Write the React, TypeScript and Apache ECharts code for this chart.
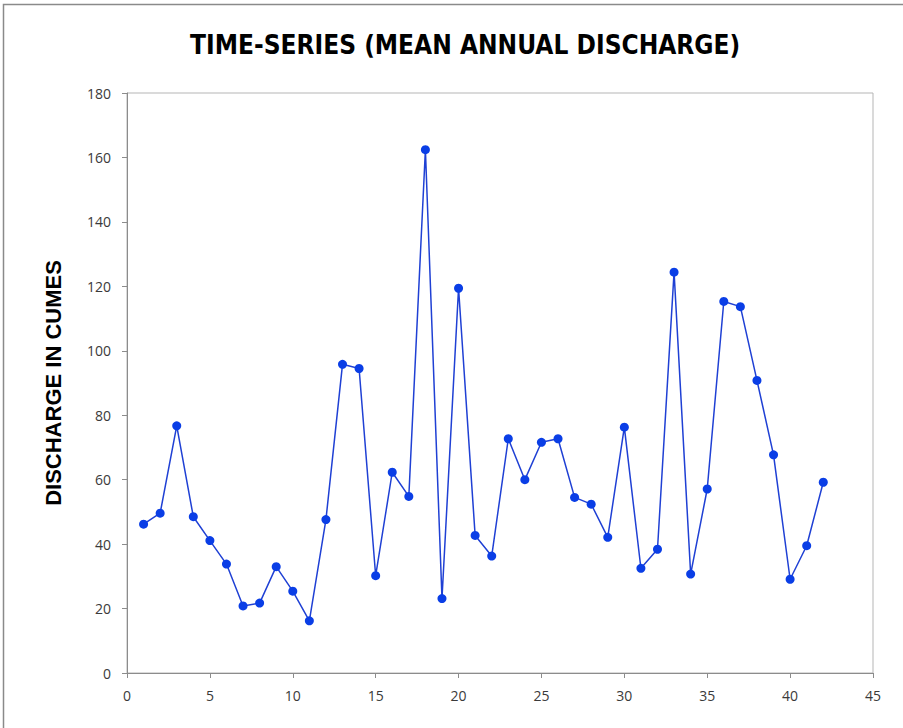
import React, { useEffect, useRef } from "react";
import * as echarts from "echarts";

const years: number[] = [
  1, 2, 3, 4, 5, 6, 7, 8, 9, 10, 11, 12, 13, 14, 15, 16, 17, 18, 19, 20, 21,
  22, 23, 24, 25, 26, 27, 28, 29, 30, 31, 32, 33, 34, 35, 36, 37, 38, 39, 40,
  41, 42,
];
const discharge: number[] = [
  46.2, 49.6, 76.7, 48.5, 41.1, 33.8, 20.8, 21.7, 33.0, 25.4, 16.2, 47.6, 95.8,
  94.5, 30.2, 62.3, 54.8, 162.4, 23.1, 119.4, 42.7, 36.3, 72.7, 60.0, 71.6,
  72.7, 54.5, 52.4, 42.1, 76.3, 32.5, 38.4, 124.4, 30.7, 57.1, 115.3, 113.7,
  90.8, 67.7, 29.1, 39.5, 59.2,
];
const titleText = "TIME-SERIES (MEAN ANNUAL DISCHARGE)";
const yAxisTitle = "DISCHARGE IN CUMES";

export default function App() {
  const ref = useRef<HTMLDivElement>(null);
  useEffect(() => {
    document.body.style.margin = "0";
    if (!ref.current) return;
    const chart = echarts.init(ref.current, undefined, { renderer: "svg" });
    const points = years.map((x, i) => [x, discharge[i]]);
    chart.setOption({
      animation: false,
      backgroundColor: "#ffffff",
      title: {
        text: titleText,
        left: 185,
        top: 27,
        textStyle: {
          fontFamily: "'Liberation Sans Narrow', 'DejaVu Sans Condensed', Arial, sans-serif",
          fontWeight: "bold",
          fontSize: 26,
          color: "#000000",
        },
      },
      graphic: [
        {
          type: "rect",
          shape: { x: 3.5, y: 4.5, width: 920, height: 740 },
          style: { fill: "none", stroke: "#8a8a8a", lineWidth: 1.5 },
          silent: true,
        },
      ],
      grid: { left: 127, right: 30, top: 93, bottom: 55, show: true, borderColor: "#b5b5b5", borderWidth: 1 },
      xAxis: {
        type: "value",
        min: 0,
        max: 45,
        interval: 5,
        splitLine: { show: false },
        axisLine: { show: true, onZero: false, lineStyle: { color: "#8c8c8c", width: 1 } },
        axisTick: { show: true, length: 5, lineStyle: { color: "#8c8c8c" } },
        axisLabel: {
          margin: 15,
          fontFamily: "'Open Sans', 'Noto Sans', sans-serif",
          fontSize: 14,
          color: "#3a3a3a",
        },
      },
      yAxis: {
        type: "value",
        min: 0,
        max: 180,
        interval: 20,
        name: yAxisTitle,
        nameLocation: "middle",
        nameGap: 63,
        nameRotate: 90,
        nameTextStyle: {
          fontFamily: "'Liberation Sans', Arial, sans-serif",
          fontWeight: "bold",
          fontSize: 22,
          color: "#000000",
        },
        splitLine: { show: false },
        axisLine: { show: true, lineStyle: { color: "#8c8c8c", width: 1 } },
        axisTick: { show: true, length: 5, lineStyle: { color: "#8c8c8c" } },
        axisLabel: {
          margin: 16,
          fontFamily: "'Open Sans', 'Noto Sans', sans-serif",
          fontSize: 14,
          color: "#3a3a3a",
        },
      },
      series: [
        {
          type: "line",
          data: points,
          symbol: "circle",
          symbolSize: 9,
          lineStyle: { color: "#1f40d4", width: 1.5 },
          itemStyle: { color: "#0a3ee6" },
        },
      ],
    });
    return () => chart.dispose();
  }, []);
  return <div ref={ref} style={{ width: 903, height: 728 }} />;
}
